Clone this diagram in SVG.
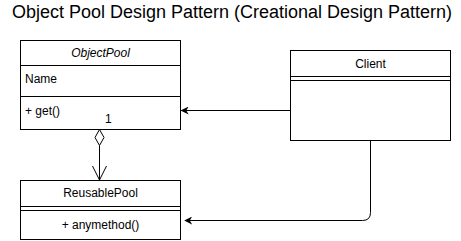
<svg xmlns="http://www.w3.org/2000/svg" width="461" height="241" viewBox="0 0 461 241">
  <style>
    .box { fill: #ffffff; stroke: #000000; stroke-width: 1; }
    .sep { stroke: #000000; stroke-width: 1; fill: none; }
    .lbl { font-family: "Liberation Sans", Arial, sans-serif; font-size: 12px; fill: #000000; }
    .mid { text-anchor: middle; }
    .edge { stroke: #000000; stroke-width: 1; fill: none; }
  </style>
  <defs>
    <marker id="block" viewBox="0 0 10 10" refX="9" refY="5" markerWidth="8" markerHeight="8" markerUnits="userSpaceOnUse" orient="auto">
      <path d="M0,0 L10,5 L0,10 L3,5 Z" fill="#000000"/>
    </marker>
  </defs>
  <rect width="461" height="241" fill="#ffffff"/>

  <text x="12" y="18" textLength="440" lengthAdjust="spacingAndGlyphs" font-family="'Liberation Sans', Arial, sans-serif" font-size="18" fill="#000000">Object Pool Design Pattern (Creational Design Pattern)</text>

  <g id="objectpool">
    <rect class="box" x="20.5" y="40.5" width="160" height="89"/>
    <line class="sep" x1="20.5" y1="65.5" x2="180.5" y2="65.5"/>
    <line class="sep" x1="20.5" y1="96.5" x2="180.5" y2="96.5"/>
    <text class="lbl mid" x="100.5" y="57" font-style="italic">ObjectPool</text>
    <text class="lbl" x="25" y="83">Name</text>
    <text class="lbl" x="25" y="115">+ get()</text>
  </g>

  <g id="reusablepool">
    <rect class="box" x="20.5" y="180.5" width="160" height="59"/>
    <line class="sep" x1="20.5" y1="206.5" x2="180.5" y2="206.5"/>
    <line class="sep" x1="20.5" y1="210.5" x2="180.5" y2="210.5"/>
    <text class="lbl mid" x="100.5" y="197">ReusablePool</text>
    <text class="lbl mid" x="100.5" y="229">+ anymethod()</text>
  </g>

  <g id="client">
    <rect class="box" x="290.5" y="50.5" width="160" height="90"/>
    <line class="sep" x1="290.5" y1="76.5" x2="450.5" y2="76.5"/>
    <line class="sep" x1="290.5" y1="80.5" x2="450.5" y2="80.5"/>
    <text class="lbl mid" x="370.5" y="68">Client</text>
  </g>

  <g id="connectors">
    <!-- aggregation: ObjectPool owns ReusablePool -->
    <path d="M99.5,129.5 L104,137.5 L99.5,145.5 L95,137.5 Z" fill="#ffffff" stroke="#000000" stroke-width="1"/>
    <line class="edge" x1="99.5" y1="145.5" x2="99.5" y2="180"/>
    <path class="edge" d="M92.5,166 L99.5,180 L106.5,166"/>
    <text class="lbl" x="105" y="123" font-size="11">1</text>
    <!-- Client uses ObjectPool -->
    <line class="edge" x1="290.5" y1="110.5" x2="181.5" y2="110.5" marker-end="url(#block)"/>
    <!-- Client uses ReusablePool -->
    <path class="edge" d="M370.5,140.5 L370.5,212.5 Q370.5,220.5 362.5,220.5 L185,220.5" marker-end="url(#block)"/>
  </g>
</svg>
